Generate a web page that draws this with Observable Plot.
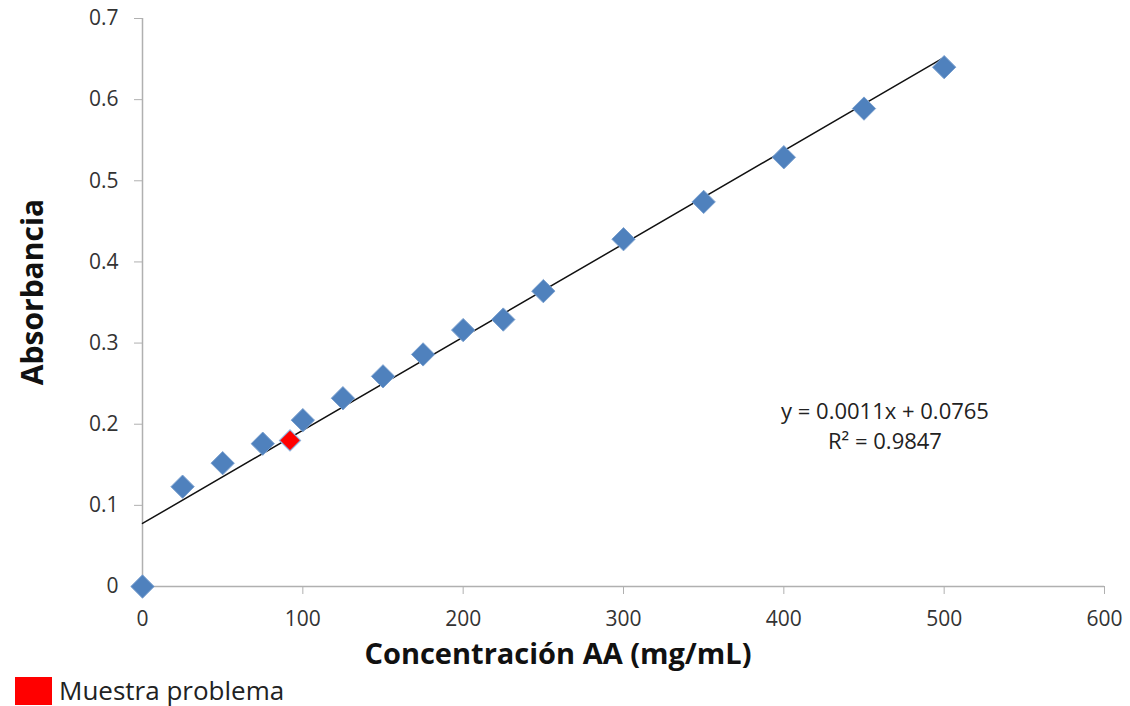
<!DOCTYPE html>
<html>
<head>
<meta charset="utf-8">
<script src="https://cdn.jsdelivr.net/npm/d3@7"></script>
<script src="https://cdn.jsdelivr.net/npm/@observablehq/plot@0.6"></script>
<style>
  html, body { margin: 0; padding: 0; background: #fff; }
  #chart { width: 1130px; height: 670px; }
  #chart svg { display: block; }
  .legend { position: relative; height: 36px; font-family: "Open Sans", sans-serif; }
  .legend .sw { position: absolute; left: 15px; top: 7px; width: 37px; height: 28px; background: #ff0000; }
  .legend .lb { position: absolute; left: 59px; top: 0px; font-size: 26px; line-height: 40px; color: #222; }
</style>
</head>
<body>
<div id="chart"></div>
<script>
// Calibration standards
const concentration = [0, 25, 50, 75, 100, 125, 150, 175, 200, 225, 250, 300, 350, 400, 450, 500];
const absorbance    = [0, 0.123, 0.152, 0.176, 0.205, 0.232, 0.259, 0.286, 0.316, 0.329, 0.364, 0.428, 0.474, 0.529, 0.589, 0.640];
// Sample point
const sampleConc = [92];
const sampleAbs  = [0.180];
// Linear trend line endpoints as drawn
const trendX = [0, 500];
const trendY = [0.0777, 0.652];
const xTicks = [0, 100, 200, 300, 400, 500, 600];
const yTicks = [0, 0.1, 0.2, 0.3, 0.4, 0.5, 0.6, 0.7];
const equationLines = ["y = 0.0011x + 0.0765", "R² = 0.9847"];
const xTitle = "Concentración AA (mg/mL)";
const yTitle = "Absorbancia";
const legendLabel = "Muestra problema";

const standards = concentration.map((c, i) => ({x: c, y: absorbance[i]}));
const sample = sampleConc.map((c, i) => ({x: c, y: sampleAbs[i]}));
const trend = trendX.map((x, i) => ({x, y: trendY[i]}));

const font = "'Open Sans', Lato, sans-serif";
const axisColor = "#b0b0b0";

const plot = Plot.plot({
  width: 1130,
  height: 670,
  marginLeft: 142,
  marginRight: 26,
  marginTop: 18,
  marginBottom: 84,
  style: {fontFamily: font, fontSize: "21px", color: "#333", background: "#fff", overflow: "visible"},
  x: {domain: [0, 600], ticks: xTicks},
  y: {domain: [0, 0.7], ticks: yTicks},
  marks: [
    Plot.ruleX([0], {stroke: axisColor, strokeWidth: 1.5}),
    Plot.ruleY([0], {stroke: axisColor, strokeWidth: 1.5}),
    Plot.axisX({ticks: xTicks, tickSize: 8, tickPadding: 17, stroke: axisColor, fill: "#333", label: null, tickFormat: d => String(d)}),
    Plot.axisY({ticks: yTicks, tickSize: 8, tickPadding: 16, stroke: axisColor, fill: "#333", label: null, tickFormat: d => d === 0 ? "0" : d.toFixed(1)}),
    Plot.line(trend, {x: "x", y: "y", stroke: "#111", strokeWidth: 1.5}),
    Plot.dot(standards, {x: "x", y: "y", symbol: "diamond2", r: 10.5, fill: "#4f81bd", stroke: "#7aa0cf", strokeWidth: 1}),
    Plot.dot(sample, {x: "x", y: "y", symbol: "diamond2", r: 9.5, fill: "#ff0000", stroke: "#8fb0dc", strokeWidth: 1.2})
  ]
});

const svg = d3.select(plot);
// Axis titles
svg.append("text")
  .attr("x", 558).attr("y", 664)
  .attr("text-anchor", "middle")
  .attr("font-family", font).attr("font-weight", "bold").attr("font-size", 29).attr("fill", "#111")
  .text(xTitle);
svg.append("text")
  .attr("transform", "translate(43,292) rotate(-90)")
  .attr("text-anchor", "middle")
  .attr("font-family", font).attr("font-weight", "bold").attr("font-size", 30).attr("fill", "#111")
  .text(yTitle);
// Trendline equation
const eq = svg.append("text")
  .attr("text-anchor", "middle")
  .attr("font-family", font).attr("font-size", 22).attr("fill", "#222");
equationLines.forEach((t, i) => eq.append("tspan").attr("x", 885).attr("y", 419 + i * 30).text(t));

document.getElementById("chart").appendChild(plot);
const leg = document.createElement("div");
leg.className = "legend";
leg.innerHTML = `<div class="sw"></div><div class="lb">${legendLabel}</div>`;
document.body.appendChild(leg);
</script>
</body>
</html>
